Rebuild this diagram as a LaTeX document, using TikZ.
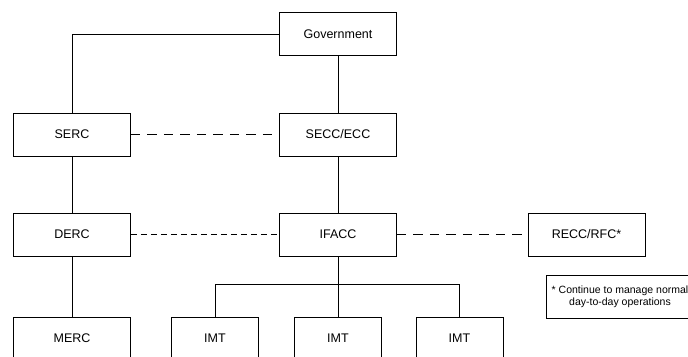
\documentclass[tikz,border=0pt]{standalone}
\usepackage{fontspec}
\setmainfont{Liberation Sans}
\begin{document}
\begin{tikzpicture}[x=1bp,y=-1bp,
  orgbox/.style={draw=black, line width=0.8bp, minimum width=117bp, minimum height=43bp,
                 inner sep=0pt, font=\fontsize{12.5bp}{14bp}\selectfont},
  imtbox/.style={orgbox, minimum width=87bp},
  notebox/.style={draw=black, line width=0.8bp, minimum width=148bp, minimum height=43bp,
                  align=center, inner sep=0pt, font=\fontsize{10.5bp}{12.2bp}\selectfont},
  link/.style={draw=black, line width=0.8bp},
  longdash/.style={link, dash pattern=on 9.5bp off 7bp},
  shortdash/.style={link, dash pattern=on 6bp off 4bp}]
\clip (0,0) rectangle (688,356);

% boxes
\node[orgbox] (gov)   at (338,34)    {Government};
\node[orgbox] (serc)  at (72,134.5)  {SERC};
\node[orgbox] (secc)  at (338,134.5) {SECC/ECC};
\node[orgbox] (derc)  at (72,234.5)  {DERC};
\node[orgbox] (ifacc) at (338,234.5) {IFACC};
\node[orgbox] (recc)  at (586.5,234.5) {RECC/RFC*};
\node[orgbox] (merc)  at (72,338.5)  {MERC};
\node[imtbox] (imta)  at (215,338.5) {IMT};
\node[imtbox] (imtb)  at (338,338.5) {IMT};
\node[imtbox] (imtc)  at (459.5,338.5) {IMT};
\node[notebox] (note) at (620,296.5) {* Continue to manage normal\\day-to-day operations};

% reporting lines
\draw[link] (gov.west) -| (serc.north);
\draw[link] (gov.south) -- (secc.north);
\draw[link] (secc.south) -- (ifacc.north);
\draw[link] (serc.south) -- (derc.north);
\draw[link] (derc.south) -- (merc.north);
\draw[link] (ifacc.south) -- (imtb.north);
\draw[link] (imta.north) -- ++(0,-32) -| (imtc.north);

% liaison lines
\draw[longdash]  (serc.east) -- (secc.west);
\draw[shortdash] (derc.east) -- (ifacc.west);
\draw[longdash]  (ifacc.east) -- (recc.west);
\end{tikzpicture}
\end{document}
